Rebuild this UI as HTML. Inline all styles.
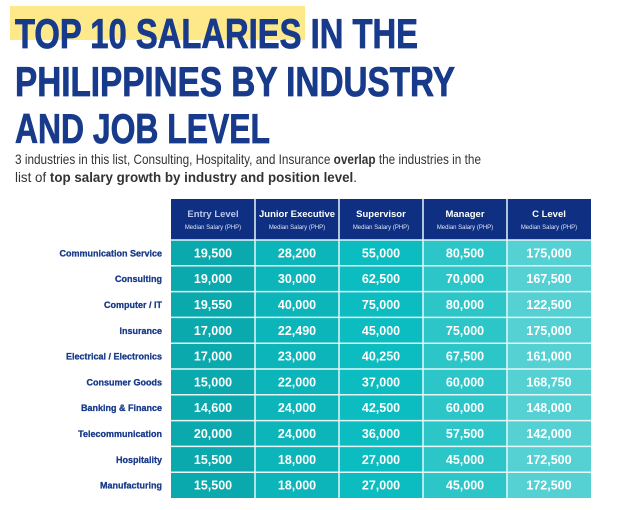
<!DOCTYPE html>
<html><head><meta charset="utf-8"><style>
body{margin:0;background:#fff;}
svg{display:block;font-family:"Liberation Sans",sans-serif;}
</style></head><body>
<svg id="c" width="620" height="510" viewBox="0 0 620 510">
<rect x="10" y="6" width="295" height="34" fill="#fde98a"/>
<g fill="#183a8a" stroke="#183a8a" stroke-width="0.8" font-weight="bold" font-size="42">
<text x="15" y="48" textLength="403" lengthAdjust="spacingAndGlyphs">TOP 10 SALARIES IN THE</text>
<text x="15" y="96" textLength="440" lengthAdjust="spacingAndGlyphs">PHILIPPINES BY INDUSTRY</text>
<text x="15" y="143" textLength="255" lengthAdjust="spacingAndGlyphs">AND JOB LEVEL</text>
</g>
<g fill="#333" font-size="14">
<text x="15" y="164" textLength="466" lengthAdjust="spacingAndGlyphs">3 industries in this list, Consulting, Hospitality, and Insurance <tspan font-weight="bold">overlap</tspan> the industries in the</text>
<text x="15" y="182" textLength="342" lengthAdjust="spacingAndGlyphs">list of <tspan font-weight="bold">top salary growth by industry and position level</tspan>.</text>
</g>
<g id="tbl"></g>
</svg>
<script>
const levels=["Entry Level","Junior Executive","Supervisor","Manager","C Level"];
const industries=["Communication Service","Consulting","Computer / IT","Insurance","Electrical / Electronics","Consumer Goods","Banking & Finance","Telecommunication","Hospitality","Manufacturing"];
const entry=[19500,19000,19550,17000,17000,15000,14600,20000,15500,15500];
const junior=[28200,30000,40000,22490,23000,22000,24000,24000,18000,18000];
const supervisor=[55000,62500,75000,45000,40250,37000,42500,36000,27000,27000];
const manager=[80500,70000,80000,75000,67500,60000,60000,57500,45000,45000];
const clevel=[175000,167500,122500,175000,161000,168750,148000,142000,172500,172500];
const series=[entry,junior,supervisor,manager,clevel];
const colColors=["#0aa9ad","#0bb5b9","#0bbdc1","#2cc6c9","#55d1d3"];
const NS="http://www.w3.org/2000/svg";
const g=document.getElementById('tbl');
const x0=171,cw=84,hy=199,hh=41,ry=240,rh=25.8;
function el(t,a){const e=document.createElementNS(NS,t);for(const k in a)e.setAttribute(k,a[k]);g.appendChild(e);return e;}
levels.forEach((lv,i)=>{
  const r=el('rect',{x:x0+i*cw,y:hy,width:cw,height:hh,fill:'#0f2f82'});
  
  
  const t=el('text',{x:x0+i*cw+cw/2,y:hy+18,'text-anchor':'middle','font-size':'9.5','font-weight':'bold',fill:i==0?'#b9c8ec':'#fff'});
  t.textContent=lv;
  
  
  const s=el('text',{x:x0+i*cw+cw/2,y:hy+30,'text-anchor':'middle','font-size':'6',fill:'#dfe6f5'});
  s.textContent="Median Salary (PHP)";
  
  
});
industries.forEach((ind,j)=>{
  const y=ry+j*rh;
  const l=el('text',{x:162,y:y+rh/2+3.5,'text-anchor':'end','font-size':'9','font-weight':'bold',fill:'#183a8a',stroke:'#183a8a','stroke-width':'0.3'});
  l.textContent=ind;
  
  
  series.forEach((arr,i)=>{
    const c=el('rect',{x:x0+i*cw,y:y,width:cw,height:rh,fill:colColors[i]});
    
    
    const v=el('text',{x:x0+i*cw+cw/2,y:y+rh/2+4.5,'text-anchor':'middle','font-size':'12.5','font-weight':'bold',fill:'#fff'});
    v.textContent=arr[j].toLocaleString('en-US');
    
    
  });
});
for(let i=1;i<levels.length;i++){
  const ln=el('line',{x1:x0+i*cw,y1:hy,x2:x0+i*cw,y2:ry+10*rh,stroke:'#e6f6f7','stroke-width':'1.5'});
  
  
}
for(let j=0;j<=9;j++){
  const ln=el('line',{x1:x0,y1:ry+j*rh,x2:x0+5*cw,y2:ry+j*rh,stroke:'#e6f6f7','stroke-width':'1.5'});
  
  
}
</script>
</body></html>
